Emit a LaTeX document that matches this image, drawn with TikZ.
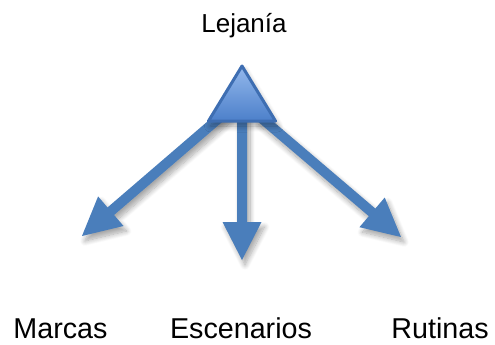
\documentclass[tikz,border=0pt]{standalone}
\usepackage{fontspec}
\setmainfont{Liberation Sans}
\usetikzlibrary{calc,shadows.blur}
\definecolor{arrowblue}{RGB}{74,126,187}
\definecolor{triedge}{RGB}{62,110,178}
\definecolor{tritop}{RGB}{148,184,236}
\definecolor{tribot}{RGB}{76,128,202}
\tikzset{
  label/.style={font=\fontsize{28.7}{31}\selectfont, anchor=base, inner sep=0pt},
  toplabel/.style={font=\fontsize{26}{28}\selectfont, anchor=base, inner sep=0pt},
  arrowfill/.style={fill=arrowblue, blur shadow={shadow xshift=3pt, shadow yshift=-5pt, shadow blur steps=10, shadow blur radius=5pt, shadow opacity=35}},
  trishape/.style={draw=triedge, line width=3pt, line join=round, top color=tritop, bottom color=tribot, blur shadow={shadow xshift=2pt, shadow yshift=-5pt, shadow blur steps=10, shadow blur radius=6pt, shadow opacity=35}}
}
\newcommand\blockarrow[2]{%
  \coordinate (ba-b) at ($(#2)!38pt!(#1)$);
  \path[arrowfill] ($(#1)!5pt!90:(#2)$) -- ($(ba-b)!5pt!90:(#2)$) -- ($(ba-b)!19.5pt!90:(#2)$) -- (#2) -- ($(ba-b)!19.5pt!-90:(#2)$) -- ($(ba-b)!5pt!-90:(#2)$) -- ($(#1)!5pt!-90:(#2)$) -- cycle;}
\begin{document}
\begin{tikzpicture}[x=1pt,y=-1pt]
\useasboundingbox (0,0) rectangle (495,345);
% triangle corners
\coordinate (apex) at (242,66);
\coordinate (bl) at (208.5,121);
\coordinate (br) at (275.5,121);
% arrow starts and tips
\coordinate (sL) at (225,113);
\coordinate (sM) at (242,115);
\coordinate (sR) at (259,116);
\coordinate (tL) at (82,236);
\coordinate (tM) at (242,260);
\coordinate (tR) at (401,237);
\blockarrow{sL}{tL}
\blockarrow{sM}{tM}
\blockarrow{sR}{tR}
\path[trishape] (apex) -- (br) -- (bl) -- cycle;
\node[toplabel] (lejania) at (244,33) {Lejanía};
\node[label] (marcas) at (60.5,338) {Marcas};
\node[label] (escenarios) at (241,338) {Escenarios};
\node[label] (rutinas) at (440,338) {Rutinas};
\end{tikzpicture}
\end{document}
